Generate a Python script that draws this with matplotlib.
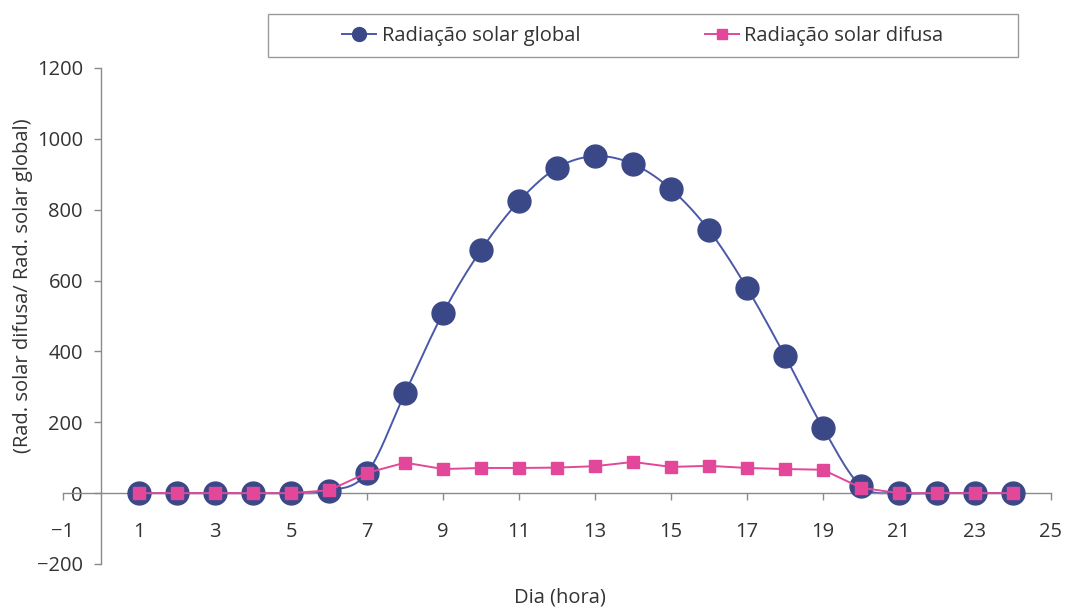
import numpy as np
import matplotlib
matplotlib.use("Agg")
import matplotlib.pyplot as plt
from matplotlib.lines import Line2D
from matplotlib.patches import Rectangle

plt.rcParams['font.family'] = ['Open Sans', 'DejaVu Sans']

# Hourly solar radiation
hours = [1, 2, 3, 4, 5, 6, 7, 8, 9, 10, 11, 12, 13, 14, 15, 16, 17, 18, 19, 20, 21, 22, 23, 24]
global_rad = [0, 0, 0, 0, 0, 6, 57, 282, 508, 686, 824, 918, 951, 929, 858, 742, 579, 387, 184, 20, 0, 0, 0, 0]
diffuse_rad = [0, 0, 0, 0, 0, 8, 57, 86, 68, 71, 71, 72, 76, 88, 74, 77, 71, 68, 66, 15, 0, 0, 0, 0]

xticks = [-1, 1, 3, 5, 7, 9, 11, 13, 15, 17, 19, 21, 23, 25]
yticks = [-200, 0, 200, 400, 600, 800, 1000, 1200]

label_global = "Radiação solar global"
label_diffuse = "Radiação solar difusa"
xlabel = "Dia (hora)"
ylabel = "(Rad. solar difusa/ Rad. solar global)"

c_global_line = "#4a58a8"
c_global_mark = "#3b4888"
c_diffuse = "#e2479a"
c_axis = "#8a8a8a"
c_text = "#333333"
fs = 14.5


def smooth_curve(x, y, n=30):
    """Cardinal (Catmull-Rom) Bezier smoothing through every point."""
    x = np.asarray(x, float)
    y = np.asarray(y, float)
    px = np.concatenate([[x[0]], x, [x[-1]]])
    py = np.concatenate([[y[0]], y, [y[-1]]])
    xs, ys = [], []
    t = np.linspace(0, 1, n)
    for i in range(1, len(px) - 2):
        p0 = np.array([px[i], py[i]])
        p3 = np.array([px[i + 1], py[i + 1]])
        p1 = p0 + (np.array([px[i + 1], py[i + 1]]) - np.array([px[i - 1], py[i - 1]])) / 6
        p2 = p3 - (np.array([px[i + 2], py[i + 2]]) - np.array([px[i], py[i]])) / 6
        b = ((1 - t) ** 3)[:, None] * p0 + (3 * (1 - t) ** 2 * t)[:, None] * p1 \
            + (3 * (1 - t) * t ** 2)[:, None] * p2 + (t ** 3)[:, None] * p3
        xs.append(b[:, 0])
        ys.append(b[:, 1])
    return np.concatenate(xs), np.concatenate(ys)


fig = plt.figure(figsize=(10.72, 6.08), dpi=100)
ax = fig.add_axes([0.0588, 0.0724, 0.9216, 0.8158])

sx, sy = smooth_curve(hours, global_rad)
ax.plot(sx, sy, color=c_global_line, lw=1.4, zorder=2)
ax.plot(hours, global_rad, ls='none', marker='o', ms=16.5,
        mfc=c_global_mark, mec=c_global_mark, zorder=3)
ax.plot(hours, diffuse_rad, color=c_diffuse, lw=1.4, marker='s', ms=8,
        mfc=c_diffuse, mec=c_diffuse, zorder=4)

ax.set_xlim(-1, 25)
ax.set_ylim(-200, 1200)
ax.set_xticks(xticks)
ax.set_yticks(yticks)
ax.set_xticklabels([str(v).replace('-', '\u2212') for v in xticks])
ax.set_yticklabels([str(v).replace('-', '\u2212') for v in yticks])

for s in ('top', 'right'):
    ax.spines[s].set_visible(False)
ax.spines['left'].set_position(('data', 0))
ax.spines['bottom'].set_position(('data', 0))
for s in ('left', 'bottom'):
    ax.spines[s].set_color(c_axis)
    ax.spines[s].set_linewidth(1.0)

ax.tick_params(axis='both', colors=c_axis, length=5, width=1.0,
               labelsize=fs, labelcolor=c_text)
ax.tick_params(axis='x', pad=16)
ax.tick_params(axis='y', pad=8)

fig.text(0.522, 0.018, xlabel, ha='center', va='center', fontsize=fs, color=c_text)
fig.text(0.021, 0.53, ylabel, ha='center', va='center', rotation=90,
         fontsize=fs, color=c_text)

# Legend frame and entries
fig.add_artist(Rectangle((0.25, 0.906), 0.6996, 0.071, transform=fig.transFigure,
                         fill=False, edgecolor='#9a9a9a', lw=1.0))
h1 = Line2D([], [], color=c_global_line, lw=1.4, marker='o', ms=10,
            mfc=c_global_mark, mec=c_global_mark)
h2 = Line2D([], [], color=c_diffuse, lw=1.4, marker='s', ms=7,
            mfc=c_diffuse, mec=c_diffuse)
fig.legend([h1, h2], [label_global, label_diffuse], loc='center',
           bbox_to_anchor=(0.5996, 0.9415), ncol=2, frameon=False,
           fontsize=fs, handlelength=1.7, handletextpad=0.25,
           columnspacing=6.2, labelcolor=c_text)

fig.savefig("out.png", dpi=100, facecolor='white')
